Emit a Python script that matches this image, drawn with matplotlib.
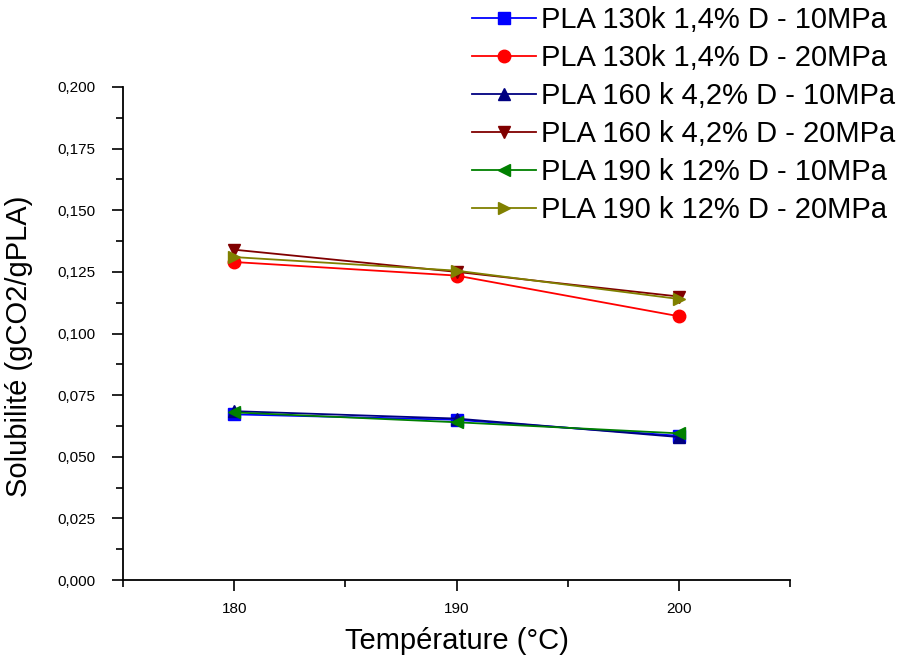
import matplotlib
matplotlib.use("Agg")
import matplotlib.pyplot as plt
from matplotlib.ticker import MultipleLocator

plt.rcParams['font.family'] = ['Liberation Sans', 'DejaVu Sans']

temperatures = [180, 190, 200]
series_labels = [
    "PLA 130k 1,4% D - 10MPa",
    "PLA 130k 1,4% D - 20MPa",
    "PLA 160 k 4,2% D - 10MPa",
    "PLA 160 k 4,2% D - 20MPa",
    "PLA 190 k 12% D - 10MPa",
    "PLA 190 k 12% D - 20MPa",
]
pla130_10 = [0.0672, 0.0650, 0.0585]
pla130_20 = [0.1290, 0.1235, 0.1070]
pla160_10 = [0.0685, 0.0655, 0.0580]
pla160_20 = [0.1340, 0.1250, 0.1150]
pla190_10 = [0.0680, 0.0640, 0.0595]
pla190_20 = [0.1310, 0.1255, 0.1140]
series_values = [pla130_10, pla130_20, pla160_10, pla160_20, pla190_10, pla190_20]

y_ticks = [0.0, 0.025, 0.05, 0.075, 0.1, 0.125, 0.15, 0.175, 0.2]
y_tick_labels = ["0,000", "0,025", "0,050", "0,075", "0,100", "0,125", "0,150", "0,175", "0,200"]
x_ticks = [180, 190, 200]
x_tick_labels = ["180", "190", "200"]

colors = ['#0000FF', '#FF0000', '#000080', '#800000', '#008000', '#808000']
markers = ['s', 'o', '^', 'v', '<', '>']

fig = plt.figure(figsize=(9.13, 6.61), dpi=100)
ax = fig.add_axes([0.1347, 0.1225, 0.7306, 0.7459])

for vals, lab, c, m in zip(series_values, series_labels, colors, markers):
    ax.plot(temperatures, vals, color=c, marker=m, markersize=9, linewidth=1.3, label=lab)

ax.set_xlim(175, 205)
ax.set_ylim(0, 0.2)
ax.set_yticks(y_ticks)
ax.set_yticklabels(y_tick_labels)
ax.set_xticks(x_ticks)
ax.set_xticklabels(x_tick_labels)
ax.yaxis.set_minor_locator(MultipleLocator(0.0125))
ax.xaxis.set_minor_locator(MultipleLocator(5))

for s in ['top', 'right']:
    ax.spines[s].set_visible(False)
for s in ['left', 'bottom']:
    ax.spines[s].set_linewidth(1.3)

ax.tick_params(which='major', direction='out', length=8, width=1.2, labelsize=11)
ax.tick_params(axis='y', which='major', pad=12)
ax.tick_params(axis='x', which='major', pad=8)
ax.tick_params(which='minor', direction='out', length=5, width=1.2)

ax.set_xlabel("Température (°C)", fontsize=21, labelpad=8)
ax.set_ylabel("Solubilité (gCO2/gPLA)", fontsize=21)
ax.yaxis.set_label_coords(-0.135, 0.475)

leg = fig.legend(loc='upper right', bbox_to_anchor=(1.0, 1.017), fontsize=21,
                 frameon=False, handlelength=2.2, handletextpad=0.17,
                 labelspacing=0.34, borderaxespad=0.2)

fig.savefig("out.png", dpi=100)
